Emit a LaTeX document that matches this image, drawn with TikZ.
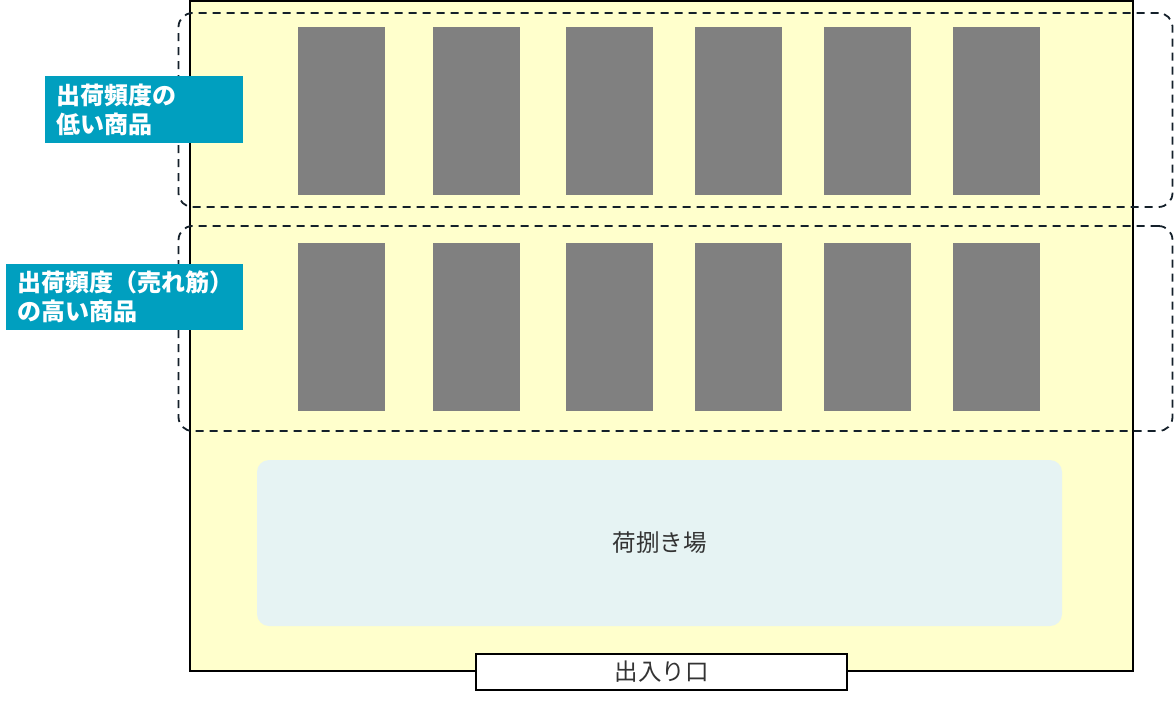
\documentclass[tikz,border=0pt]{standalone}
\usepackage{fontspec}
\setmainfont{Noto Sans CJK JP}
\usetikzlibrary{positioning}

\definecolor{floorcol}{HTML}{FFFFCC}
\definecolor{rackcol}{HTML}{808080}
\definecolor{tagcol}{HTML}{009FBF}
\definecolor{pickcol}{HTML}{E6F3F3}
\definecolor{zonecol}{HTML}{14202A}
\definecolor{textcol}{HTML}{333333}

\begin{document}
\begin{tikzpicture}[
            x=1pt, y=-1pt,
            floor/.style={draw, line width=1.8pt, fill=floorcol, minimum width=943pt, minimum height=670pt},
            rack/.style={fill=rackcol, minimum width=87pt, minimum height=168pt, inner sep=0pt, outer sep=0pt},
            zone/.style={draw=zonecol, dash pattern=on 8pt off 6pt, line width=1.8pt, rounded corners=14pt, minimum width=994pt, inner sep=0pt},
            tag/.style={fill=tagcol, text=white, font=\bfseries\fontsize{24}{29}\selectfont, align=left, anchor=west, inner xsep=11pt},
            pickarea/.style={fill=pickcol, rounded corners=12pt, minimum width=805pt, minimum height=166pt, font=\fontsize{23.5}{26}\selectfont, text=textcol},
            gate/.style={draw, line width=2pt, fill=white, minimum width=371pt, minimum height=36pt, inner sep=0pt, font=\fontsize{23.5}{26}\selectfont, text=textcol}
        ]
        \useasboundingbox (0,0) rectangle (1174,702);

        % Floor
        \node[floor] (floor) at (661.5,336) {};

        % Zones
        \node[zone, minimum height=194pt] (lowzone) at (675.5,110) {};
        \node[zone, minimum height=205pt] (highzone) at (675.5,328.5) {};

        % Racks, low frequency
        \node[rack] (low1) at (341.5,111) {};
        \node[rack, right=48pt of low1] (low2) {};
        \node[rack, right=46pt of low2] (low3) {};
        \node[rack, right=42pt of low3] (low4) {};
        \node[rack, right=42pt of low4] (low5) {};
        \node[rack, right=42pt of low5] (low6) {};

        % Racks, high frequency
        \node[rack] (high1) at (341.5,327) {};
        \node[rack, right=48pt of high1] (high2) {};
        \node[rack, right=46pt of high2] (high3) {};
        \node[rack, right=42pt of high3] (high4) {};
        \node[rack, right=42pt of high4] (high5) {};
        \node[rack, right=42pt of high5] (high6) {};

        % Tags
        \node[tag, text width=176pt, minimum height=67pt] (lowtag) at (45,109.5) {出荷頻度の\\低い商品};
        \node[tag, text width=215pt, minimum height=66pt] (hightag) at (6,297) {出荷頻度（売れ筋）\\の高い商品};

        % Picking area and gate
        \node[pickarea] (pick) at (659.5,543) {荷捌き場};
        \node[gate] (gate) at (661.5,672) {出入り口};

        \end{tikzpicture}
\end{document}
